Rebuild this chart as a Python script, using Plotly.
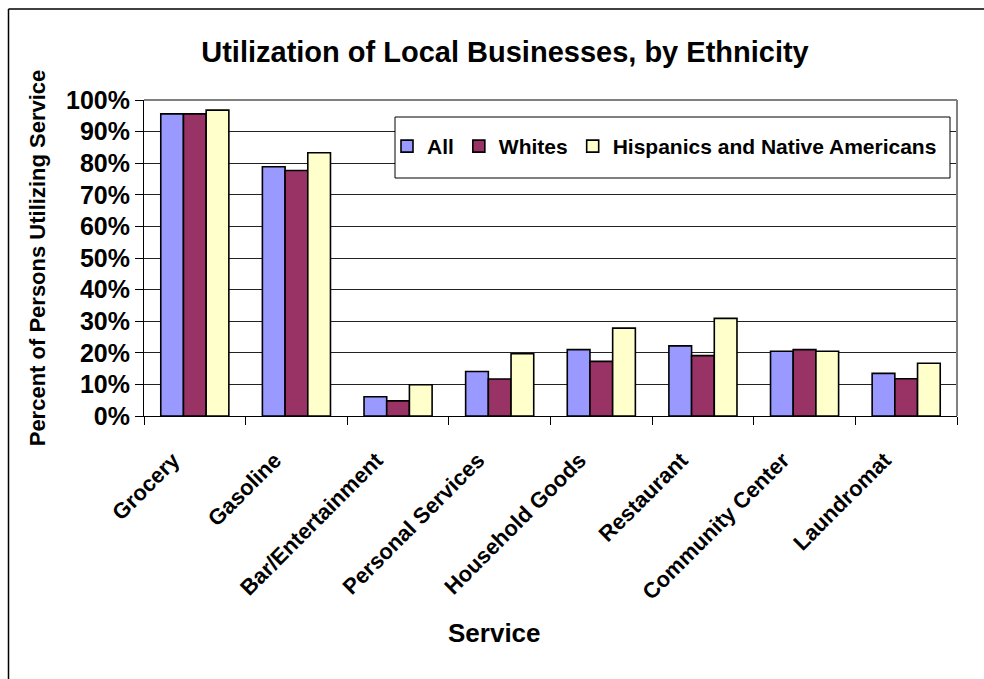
"""
Utilization of local businesses by ethnicity - grouped bar chart.
"""
import plotly.graph_objects as go

# Data (percent of persons)
services = [
    'Grocery', 'Gasoline', 'Bar/Entertainment', 'Personal Services',
    'Household Goods', 'Restaurant', 'Community Center', 'Laundromat',
]
all_pct = [95.6, 78.9, 6.1, 14.1, 21.0, 22.2, 20.5, 13.5]
whites_pct = [95.6, 77.7, 4.8, 11.7, 17.3, 19.1, 21.0, 11.8]
hisp_native_pct = [96.8, 83.3, 9.9, 19.7, 27.8, 30.9, 20.5, 16.7]

series = [
    ('All', all_pct, '#9999FF'),
    ('Whites', whites_pct, '#993366'),
    ('Hispanics and Native Americans', hisp_native_pct, '#FFFFCC'),
]

FONT = 'Arial, Liberation Sans, sans-serif'

W, H = 984, 679
# plot area in page pixels (body margin removed below)
L, R, T, B = 144, 27, 100, 263
PW, PH = W - L - R, H - T - B


def px_x(p):
    return (p - L) / PW


def px_y(p):
    return (PH + T - p) / PH


fig = go.Figure()
for name, values, color in series:
    fig.add_trace(go.Bar(
        x=services,
        y=values,
        name=name,
        marker=dict(color=color, line=dict(color='black', width=1.6)),
    ))

fig.update_layout(
    width=W,
    height=H,
    margin=dict(l=L, r=R, t=T, b=B),
    paper_bgcolor='white',
    plot_bgcolor='white',
    barmode='group',
    bargap=0.33,
    bargroupgap=0,
    font=dict(family=FONT, color='black'),
    title=dict(
        text='<b>Utilization of Local Businesses, by Ethnicity</b>',
        x=505 / W, xanchor='center',
        y=1 - 52 / H, yanchor='middle',
        font=dict(size=29, family=FONT, color='black'),
    ),
    showlegend=True,
    legend=dict(
        orientation='h',
        x=px_x(387), xanchor='left',
        y=px_y(126), yanchor='top',
        bgcolor='rgba(0,0,0,0)',
        borderwidth=0,
        font=dict(size=21, family=FONT, color='black', weight='bold'),
        traceorder='normal',
    ),
)

fig.update_yaxes(
    range=[0, 100],
    tickvals=list(range(0, 101, 10)),
    ticktext=[f'<b>{v}%</b>' for v in range(0, 101, 10)],
    tickfont=dict(size=25, family=FONT, color='black'),
    ticks='outside',
    ticklen=8,
    tickcolor='black',
    showgrid=True,
    gridcolor='#222222',
    gridwidth=1,
    showline=True,
    linecolor='black',
    linewidth=1,
    zeroline=False,
    title=dict(
        text='<b>Percent of Persons Utilizing Service</b>',
        font=dict(size=22, family=FONT, color='black'),
        standoff=14,
    ),
)

fig.update_xaxes(
    tickangle=-45,
    tickvals=services,
    # trailing spaces push the rotated labels a little further from the axis
    ticktext=[s + '\u00a0' * 5 for s in services],
    tickfont=dict(size=22, family=FONT, color='black', weight='bold'),
    ticks='outside',
    tickson='boundaries',
    ticklen=8,
    tickcolor='black',
    showline=True,
    linecolor='black',
    linewidth=1,
    showgrid=False,
)

# gray frame on top and right of plot area
fig.add_shape(type='line', xref='paper', yref='paper',
              x0=0, x1=1, y0=1, y1=1, line=dict(color='#808080', width=2))
fig.add_shape(type='line', xref='paper', yref='paper',
              x0=1, x1=1, y0=0, y1=1, line=dict(color='#808080', width=2))

# legend box
fig.add_shape(type='rect', xref='paper', yref='paper',
              x0=px_x(395), x1=px_x(950), y0=px_y(178), y1=px_y(117),
              line=dict(color='black', width=1), fillcolor='white',
              layer='above')

# outer chart border: left and top edges only, the rest is off the page
fig.add_shape(type='line', xref='paper', yref='paper',
              x0=px_x(8.5), x1=px_x(8.5), y0=px_y(H + 10), y1=px_y(9),
              line=dict(color='black', width=1.5))
fig.add_shape(type='line', xref='paper', yref='paper',
              x0=px_x(8.5), x1=px_x(W + 10), y0=px_y(9), y1=px_y(9),
              line=dict(color='black', width=1.5))

# x axis title
fig.add_annotation(
    text='<b>Service</b>', xref='paper', yref='paper',
    x=px_x(494), y=px_y(633),
    xanchor='center', yanchor='middle',
    showarrow=False, font=dict(size=26, family=FONT, color='black'),
)

# drop the default page margin so the figure fills the window exactly
fig.write_html(
    'out.html',
    config={'displayModeBar': False},
    post_script=(
        "document.body.style.margin='0';"
        "document.documentElement.style.overflow='hidden';"
    ),
)
